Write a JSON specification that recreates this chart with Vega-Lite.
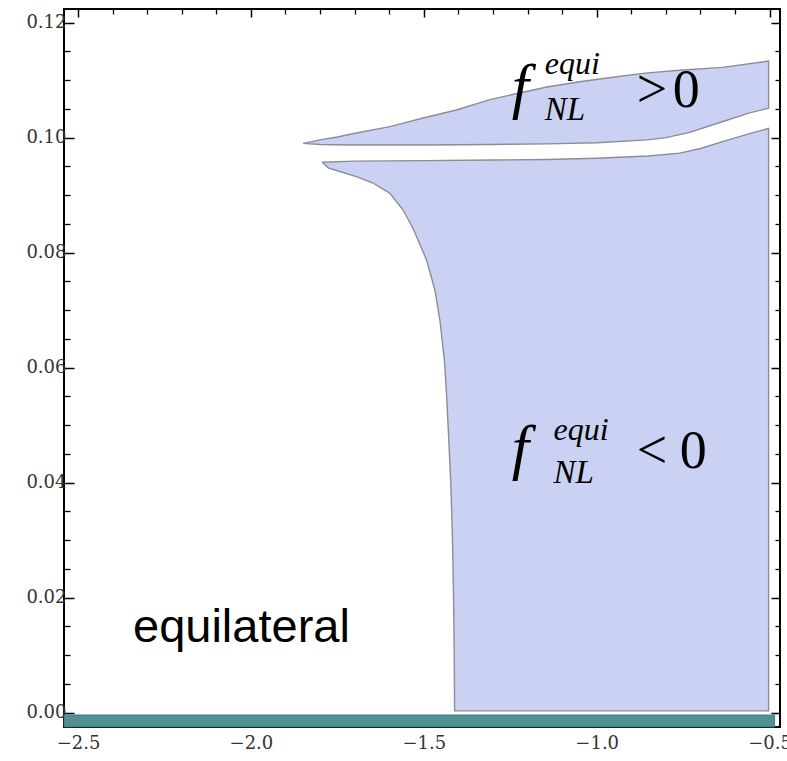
{
  "$schema": "https://vega.github.io/schema/vega-lite/v6.json",
  "width": 716,
  "height": 718,
  "autosize": {"type": "none"},
  "padding": {"left": 64, "top": 9, "right": 7, "bottom": 34},
  "background": "white",
  "config": {
    "view": {"stroke": "black", "strokeWidth": 2},
    "axis": {"domain": false, "grid": false, "tickColor": "black"}
  },
  "resolve": {"axis": {"x": "independent", "y": "independent"}},
  "layer": [
    {
      "data": {"values": [
        {"i": 0, "x": -1.794, "y": 0.0957},
        {"i": 1, "x": -1.70, "y": 0.0959},
        {"i": 2, "x": -1.50, "y": 0.0960},
        {"i": 3, "x": -1.30, "y": 0.0961},
        {"i": 4, "x": -1.144, "y": 0.0962},
        {"i": 5, "x": -1.00, "y": 0.0964},
        {"i": 6, "x": -0.85, "y": 0.0968},
        {"i": 7, "x": -0.76, "y": 0.0973},
        {"i": 8, "x": -0.70, "y": 0.0981},
        {"i": 9, "x": -0.636, "y": 0.0993},
        {"i": 10, "x": -0.558, "y": 0.1007},
        {"i": 11, "x": -0.503, "y": 0.1016},
        {"i": 12, "x": -0.503, "y": 0.0003},
        {"i": 13, "x": -1.411, "y": 0.0003},
        {"i": 14, "x": -1.412, "y": 0.010},
        {"i": 15, "x": -1.414, "y": 0.020},
        {"i": 16, "x": -1.417, "y": 0.030},
        {"i": 17, "x": -1.422, "y": 0.040},
        {"i": 18, "x": -1.429, "y": 0.049},
        {"i": 19, "x": -1.434, "y": 0.055},
        {"i": 20, "x": -1.440, "y": 0.061},
        {"i": 21, "x": -1.453, "y": 0.068},
        {"i": 22, "x": -1.468, "y": 0.0735},
        {"i": 23, "x": -1.492, "y": 0.0787},
        {"i": 24, "x": -1.531, "y": 0.0842},
        {"i": 25, "x": -1.560, "y": 0.0874},
        {"i": 26, "x": -1.598, "y": 0.0903},
        {"i": 27, "x": -1.647, "y": 0.0921},
        {"i": 28, "x": -1.695, "y": 0.0932},
        {"i": 29, "x": -1.743, "y": 0.0941},
        {"i": 30, "x": -1.775, "y": 0.0947},
        {"i": 31, "x": -1.794, "y": 0.0957}
      ]},
      "mark": {"type": "line", "fill": "#cbd1f3", "stroke": "#8a8d99", "strokeWidth": 1.4},
      "encoding": {
        "x": {"field": "x", "type": "quantitative", "scale": {"domain": [-2.5405, -0.47], "nice": false, "zero": false},
          "axis": {"orient": "bottom", "values": [-2.5, -2, -1.5, -1, -0.5], "format": ".1f", "tickSize": -9, "tickWidth": 1.5, "labelFont": "DejaVu Serif", "labelFontSize": 18, "labelColor": "#333333", "labelPadding": 16, "labelFlush": false, "labelOverlap": false, "title": null}},
        "y": {"field": "y", "type": "quantitative", "scale": {"domain": [-0.0025, 0.12236], "nice": false, "zero": false},
          "axis": {"orient": "left", "values": [0, 0.02, 0.04, 0.06, 0.08, 0.1, 0.12], "format": ".2f", "tickSize": -10, "tickWidth": 1.5, "labelFont": "DejaVu Serif", "labelFontSize": 18, "labelColor": "#333333", "labelPadding": 8, "labelFlush": false, "labelOverlap": false, "title": null}},
        "order": {"field": "i", "type": "quantitative"}
      }
    },
    {
      "data": {"values": [
        {"i": 0, "x": -1.849, "y": 0.0990},
        {"i": 1, "x": -1.80, "y": 0.0996},
        {"i": 2, "x": -1.75, "y": 0.1001},
        {"i": 3, "x": -1.695, "y": 0.1008},
        {"i": 4, "x": -1.598, "y": 0.1019},
        {"i": 5, "x": -1.502, "y": 0.1034},
        {"i": 6, "x": -1.406, "y": 0.1048},
        {"i": 7, "x": -1.309, "y": 0.1066},
        {"i": 8, "x": -1.22, "y": 0.1078},
        {"i": 9, "x": -1.144, "y": 0.1088},
        {"i": 10, "x": -1.05, "y": 0.1097},
        {"i": 11, "x": -0.954, "y": 0.1105},
        {"i": 12, "x": -0.86, "y": 0.1112},
        {"i": 13, "x": -0.76, "y": 0.1117},
        {"i": 14, "x": -0.636, "y": 0.1122},
        {"i": 15, "x": -0.503, "y": 0.1133},
        {"i": 16, "x": -0.503, "y": 0.1051},
        {"i": 17, "x": -0.558, "y": 0.1043},
        {"i": 18, "x": -0.635, "y": 0.1028},
        {"i": 19, "x": -0.731, "y": 0.1009},
        {"i": 20, "x": -0.80, "y": 0.1000},
        {"i": 21, "x": -0.855, "y": 0.0996},
        {"i": 22, "x": -1.00, "y": 0.0991},
        {"i": 23, "x": -1.144, "y": 0.0989},
        {"i": 24, "x": -1.309, "y": 0.0988},
        {"i": 25, "x": -1.50, "y": 0.0987},
        {"i": 26, "x": -1.70, "y": 0.0987},
        {"i": 27, "x": -1.80, "y": 0.0988},
        {"i": 28, "x": -1.849, "y": 0.0990}
      ]},
      "mark": {"type": "line", "fill": "#cbd1f3", "stroke": "#8a8d99", "strokeWidth": 1.4},
      "encoding": {
        "x": {"field": "x", "type": "quantitative", "scale": {"domain": [-2.5405, -0.47], "nice": false, "zero": false},
          "axis": {"orient": "top", "values": [-2.5, -2, -1.5, -1, -0.5], "labels": false, "tickSize": -8, "tickWidth": 1.5, "title": null}},
        "y": {"field": "y", "type": "quantitative", "scale": {"domain": [-0.0025, 0.12236], "nice": false, "zero": false},
          "axis": {"orient": "right", "values": [0, 0.02, 0.04, 0.06, 0.08, 0.1, 0.12], "labels": false, "tickSize": -9, "tickWidth": 1.5, "title": null}},
        "order": {"field": "i", "type": "quantitative"}
      }
    },
    {
      "data": {"values": [
        {"x": -2.5405, "x2": -0.4855, "y": -0.0004, "y2": -0.0025}
      ]},
      "mark": {"type": "rect", "fill": "#509193", "stroke": "#3c6e70", "strokeWidth": 0.8},
      "encoding": {
        "x": {"field": "x", "type": "quantitative", "scale": {"domain": [-2.5405, -0.47], "nice": false, "zero": false},
          "axis": {"orient": "bottom", "values": [-2.4, -2.3, -2.2, -2.1, -1.9, -1.8, -1.7, -1.6, -1.4, -1.3, -1.2, -1.1, -0.9, -0.8, -0.7, -0.6], "labels": false, "tickSize": -5, "tickWidth": 1.3, "title": null}},
        "x2": {"field": "x2"},
        "y": {"field": "y", "type": "quantitative", "scale": {"domain": [-0.0025, 0.12236], "nice": false, "zero": false},
          "axis": {"orient": "left", "values": [0.005, 0.01, 0.015, 0.025, 0.03, 0.035, 0.045, 0.05, 0.055, 0.065, 0.07, 0.075, 0.085, 0.09, 0.095, 0.105, 0.11, 0.115], "labels": false, "tickSize": -6, "tickWidth": 1.3, "title": null}},
        "y2": {"field": "y2"}
      }
    },
    {
      "data": {"values": [
        {"label": "equilateral", "x": -2.341, "y": 0.0123}
      ]},
      "mark": {"type": "text", "font": "Liberation Sans", "fontSize": 47, "align": "left", "baseline": "alphabetic", "color": "black"},
      "encoding": {
        "x": {"field": "x", "type": "quantitative", "scale": {"domain": [-2.5405, -0.47], "nice": false, "zero": false},
          "axis": {"orient": "top", "values": [-2.4, -2.3, -2.2, -2.1, -1.9, -1.8, -1.7, -1.6, -1.4, -1.3, -1.2, -1.1, -0.9, -0.8, -0.7, -0.6], "labels": false, "tickSize": -5, "tickWidth": 1.3, "title": null}},
        "y": {"field": "y", "type": "quantitative", "scale": {"domain": [-0.0025, 0.12236], "nice": false, "zero": false},
          "axis": {"orient": "right", "values": [0.005, 0.01, 0.015, 0.025, 0.03, 0.035, 0.045, 0.05, 0.055, 0.065, 0.07, 0.075, 0.085, 0.09, 0.095, 0.105, 0.11, 0.115], "labels": false, "tickSize": -5, "tickWidth": 1.3, "title": null}},
        "text": {"field": "label"}
      }
    },
    {
      "data": {"values": [
        {"label": "f", "x": -1.2457, "y": 0.10534},
        {"label": "f", "x": -1.2457, "y": 0.04256}
      ]},
      "mark": {"type": "text", "font": "Liberation Serif", "fontStyle": "italic", "fontSize": 62, "align": "left", "baseline": "alphabetic", "color": "black"},
      "encoding": {
        "x": {"field": "x", "type": "quantitative", "scale": {"domain": [-2.5405, -0.47], "nice": false, "zero": false}, "axis": null},
        "y": {"field": "y", "type": "quantitative", "scale": {"domain": [-0.0025, 0.12236], "nice": false, "zero": false}, "axis": null},
        "text": {"field": "label"}
      }
    },
    {
      "data": {"values": [
        {"label": "equi", "x": -1.150, "y": 0.1110},
        {"label": "equi", "x": -1.125, "y": 0.04743}
      ]},
      "mark": {"type": "text", "font": "Liberation Serif", "fontStyle": "italic", "fontSize": 32, "align": "left", "baseline": "alphabetic", "color": "black"},
      "encoding": {
        "x": {"field": "x", "type": "quantitative", "scale": {"domain": [-2.5405, -0.47], "nice": false, "zero": false}, "axis": null},
        "y": {"field": "y", "type": "quantitative", "scale": {"domain": [-0.0025, 0.12236], "nice": false, "zero": false}, "axis": null},
        "text": {"field": "label"}
      }
    },
    {
      "data": {"values": [
        {"label": "NL", "x": -1.150, "y": 0.10308},
        {"label": "NL", "x": -1.125, "y": 0.03995}
      ]},
      "mark": {"type": "text", "font": "Liberation Serif", "fontStyle": "italic", "fontSize": 33, "align": "left", "baseline": "alphabetic", "color": "black"},
      "encoding": {
        "x": {"field": "x", "type": "quantitative", "scale": {"domain": [-2.5405, -0.47], "nice": false, "zero": false}, "axis": null},
        "y": {"field": "y", "type": "quantitative", "scale": {"domain": [-0.0025, 0.12236], "nice": false, "zero": false}, "axis": null},
        "text": {"field": "label"}
      }
    },
    {
      "data": {"values": [
        {"label": ">", "x": -0.8844, "y": 0.10534},
        {"label": "0", "x": -0.7803, "y": 0.10534},
        {"label": "<", "x": -0.8844, "y": 0.04256},
        {"label": "0", "x": -0.7601, "y": 0.04256}
      ]},
      "mark": {"type": "text", "font": "Liberation Serif", "fontSize": 54, "align": "left", "baseline": "alphabetic", "color": "black"},
      "encoding": {
        "x": {"field": "x", "type": "quantitative", "scale": {"domain": [-2.5405, -0.47], "nice": false, "zero": false}, "axis": null},
        "y": {"field": "y", "type": "quantitative", "scale": {"domain": [-0.0025, 0.12236], "nice": false, "zero": false}, "axis": null},
        "text": {"field": "label"}
      }
    }
  ]
}
